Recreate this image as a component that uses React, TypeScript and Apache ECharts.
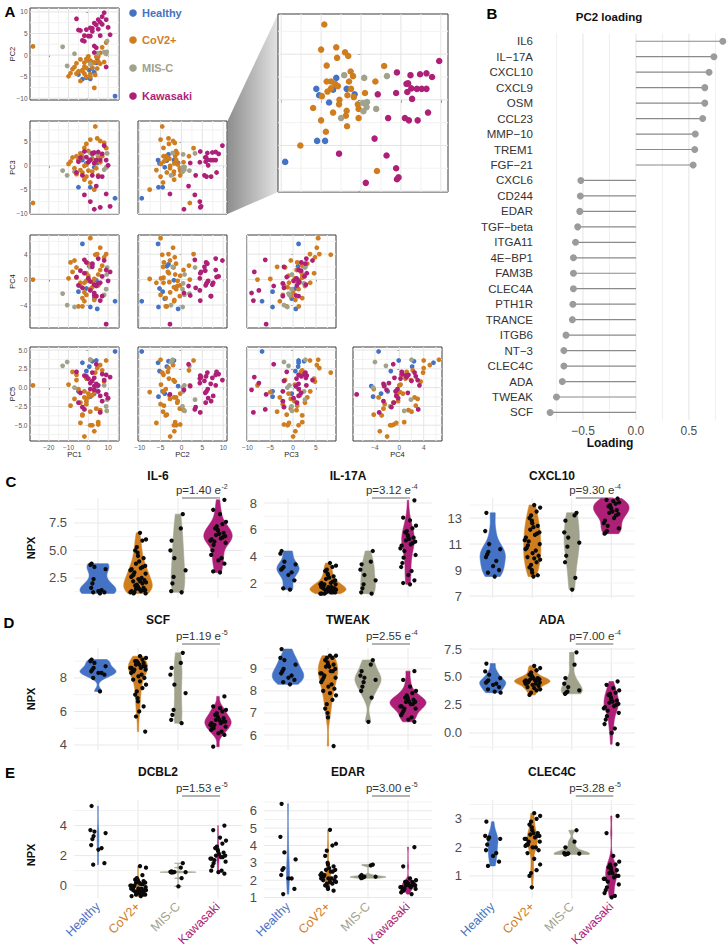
import React, { useEffect, useRef } from "react";
import * as echarts from "echarts";

const FONT = "'Liberation Sans', Arial, Helvetica, sans-serif";
const GROUPS = ["Healthy", "CoV2+", "MIS-C", "Kawasaki"];
const COLORS = ["#4472c4", "#cf7d1f", "#a0a28c", "#ae1f78"];

// ---------- Panel A: PCA scores ----------
const healthyPC1 = [2, -3, -1, 0.5, 3, 4, 4.5, 1, -5, 13.5];
const healthyPC2 = [-3.1, -5.6, -5.25, -3.5, -4.0, -1.8, -0.8, -5.5, -4.5, -9.5];
const healthyPC3 = [2.4, 1.2, 0.5, 1.1, -0.3, 1.2, 0.6, -4.5, -4.5, -6.8];
const healthyPC4 = [2.4, 5.6, -1.4, 2.1, -3.0, -0.1, -4.6, -4.3, -1.9, -3.4];
const healthyPC5 = [3.5, 3.3, 2.2, 2.8, -0.8, 3.6, 0.2, -1.2, -0.5, 4.8];

const covPC1 = [3.5, 1, 4.5, -1, 6, 8, -2, 9, 0, -4, -6, -3, -8, 2, 5, 7, -5, 1, -9, -10, 3, -1, 6, -2, -7, -4, 4, 0, -3, 2, -6, -1, 5, -2, 1, 3, -28];
const covPC2 = [-4.6, -5.0, -3.1, -3.0, -2.0, -1.6, -4.3, 2.9, -1.3, -1.0, -4.3, -3.75, -3.25, -2.9, -1.5, 1.8, -3.75, -1.25, -4.2, -4.9, -1.7, -0.9, 0.5, -2.7, -2.75, -6.0, -0.4, -0.3, -3.5, -1.8, -1.9, -5.0, -0.3, -1.75, -4.4, -7.6, 2.0];
const covPC3 = [8.25, 5.5, 5.75, 4.6, 5.2, 4.8, 3.75, 3.7, 3.1, 2.6, 2.0, 2.0, 1.75, 1.5, 2.0, 2.0, 1.25, 1.2, 0.9, 0.4, 0.5, 0.3, 0.75, 0.0, -0.5, -0.9, -0.5, -1.0, -1.4, -1.2, -1.75, -2.25, -2.0, -2.9, -3.5, -5.0, -7.8];
const covPC4 = [3.9, 6.5, 4.0, 1.0, 5.0, 3.5, -0.5, 4.0, 2.5, -1.0, 0.3, -2.9, 1.2, -0.4, 0.8, 2.2, -4.2, -1.5, 2.7, 0.2, -3.2, -0.2, 1.5, -2.0, 3.0, -0.5, -2.6, 0.6, -4.2, -1.2, 1.9, -2.4, -0.9, -3.4, 2.0, 0.1, 0.0];
const covPC5 = [2.0, 3.7, 2.6, 1.2, 3.0, 0.8, -0.5, 3.6, -1.3, -2.0, 1.7, -3.7, 2.1, -1.0, -4.6, 2.3, -0.2, -5.0, -2.4, 0.4, -5.8, -1.8, -3.0, -6.5, -1.5, -4.7, -2.8, -0.8, -3.6, -5.0, 1.0, -2.2, -4.9, -1.3, -3.2, -0.6, 0.3];

const miscPC1 = [1, 4.7, 9.5, 9, 9.3, 8, -7, -13, -10.7];
const miscPC2 = [-2.1, 0.4, 3.25, 0.25, 0.75, 0.7, 0.3, 1.9, -2.5];
const miscPC3 = [2.7, 2.4, 2.6, -0.35, -0.25, -0.8, -1.25, -1.0, -2.0];
const miscPC4 = [2.0, -0.6, 1.9, -1.5, 0.8, -2.4, -4.3, -2.2, -4.0];
const miscPC5 = [3.7, -0.5, -1.6, -2.5, -3.1, 0.3, 0.0, 2.9, 3.4];

const kawPC1 = [8, -2, 2, 3, 5, 7, -4, -1, 1, 4, 6, 9, -5, 0, 3, 10, -3, 2, 5, 7, -6, 4, 9, -2, 1, 6, 11, 3];
const kawPC2 = [9.8, 4.5, 6.2, 7.4, 8.2, 8.9, 5.7, 5.9, 6.3, 7.0, 7.6, 8.2, 5.8, 4.4, 2.1, 6.4, 3.4, 5.5, 6.0, 7.1, 8.4, 1.7, -2.75, 3.2, 4.4, 4.5, 4.7, 0.6];
const kawPC3 = [4.25, 3.0, 2.7, 2.8, 2.9, 2.5, 1.75, 1.8, 1.25, 1.2, 1.2, 1.2, 0.85, 0.75, 0.6, 0.1, -2.0, -2.0, -2.25, -2.25, -1.4, -4.25, -5.9, -6.1, -7.5, -8.7, -8.5, -9.1];
const kawPC4 = [3.0, 1.0, 2.5, -0.8, 3.3, 0.5, 1.4, 2.7, -0.3, -2.6, -0.5, 1.5, -0.9, 0.2, -2.5, -0.2, -1.3, 2.0, -0.6, -2.6, 0.4, -1.0, -7.0, 3.1, -1.7, -3.3, 1.2, -2.1];
const kawPC5 = [1.0, 1.6, 2.0, 1.3, 0.3, 1.8, -0.7, 1.5, -0.2, 0.5, -1.1, 1.7, -2.0, 1.2, 0.2, -1.4, -2.6, 0.9, -0.5, -1.8, 2.1, 3.1, -0.9, -2.9, 0.6, -3.3, 1.4, -0.3];

const PC_NAMES = ["PC1", "PC2", "PC3", "PC4", "PC5"];
const PC_TICKS = [[-20, -10, 0, 10], [-10, -5, 0, 5, 10], [-10, -5, 0, 5], [-4, 0, 4], [-5, -2.5, 0, 2.5, 5]];
const PC_MINOR = [[-25, -15, -5, 5, 15], [-7.5, -2.5, 2.5, 7.5], [-7.5, -2.5, 2.5, 7.5], [-6, -2, 2, 6], [-6.25, -3.75, -1.25, 1.25, 3.75]];
const PC_DEC = [0, 0, 0, 0, 1];
const PC_RANGE = [[-29.5, 15.5], [-10.4, 10.9], [-10.1, 9.4], [-7.6, 7.0], [-7.1, 5.4]];

// ---------- Panel B: PC2 loadings ----------
const loadingNames = ["IL6", "IL\u221217A", "CXCL10", "CXCL9", "OSM", "CCL23", "MMP\u221210", "TREM1", "FGF\u221221", "CXCL6", "CD244", "EDAR", "TGF\u2212beta", "ITGA11", "4E\u2212BP1", "FAM3B", "CLEC4A", "PTH1R", "TRANCE", "ITGB6", "NT\u22123", "CLEC4C", "ADA", "TWEAK", "SCF"];
const loadingValues = [0.82, 0.736, 0.69, 0.65, 0.65, 0.63, 0.56, 0.555, 0.54, -0.52, -0.525, -0.53, -0.55, -0.57, -0.59, -0.59, -0.59, -0.595, -0.6, -0.66, -0.68, -0.68, -0.695, -0.75, -0.81];
const loadingTicks = [-0.5, 0, 0.5];

// ---------- Panels C-E: NPX values ----------
const il6Healthy = [3.8, 3.7, 3.5, 3.3, 2.4, 2.0, 1.6, 1.4, 1.3, 1.2, 1.2, 1.1];
const il6Cov = [6.6, 6.0, 5.9, 5.3, 5.0, 4.8, 4.5, 4.3, 4.0, 3.8, 3.6, 3.5, 3.4, 3.3, 3.2, 3.0, 2.9, 2.8, 2.7, 2.6, 2.5, 2.4, 2.3, 2.2, 2.2, 2.1, 2.0, 1.9, 1.8, 1.7, 1.7, 1.6, 1.5, 1.5, 1.4, 1.4, 1.3, 1.3, 1.2, 1.2, 1.1, 1.1];
const il6Misc = [8.3, 7.0, 5.9, 5.0, 4.3, 3.2, 2.6, 2.0, 1.3, 1.2];
const il6Kaw = [9.6, 8.7, 8.3, 7.6, 7.4, 7.2, 7.0, 6.9, 6.8, 6.6, 6.5, 6.4, 6.3, 6.2, 6.1, 6.0, 5.9, 5.8, 5.7, 5.5, 5.0, 4.6, 4.3, 4.1, 3.8, 3.1, 3.0];

const il17Healthy = [4.4, 4.2, 3.6, 3.4, 3.2, 3.1, 3.0, 2.8, 2.6, 2.2, 1.6, 1.5];
const il17Cov = [3.5, 3.3, 3.2, 3.0, 2.9, 2.7, 2.6, 2.5, 2.4, 2.3, 2.2, 2.1, 2.0, 2.0, 1.9, 1.9, 1.9, 1.8, 1.8, 1.7, 1.7, 1.7, 1.6, 1.6, 1.6, 1.5, 1.5, 1.5, 1.5, 1.4, 1.4, 1.4, 1.4, 1.3, 1.3, 1.3, 1.3, 1.2, 1.2, 1.2];
const il17Misc = [4.4, 3.6, 3.4, 3.0, 2.6, 2.2, 1.9, 1.6, 1.3, 1.2];
const il17Kaw = [8.2, 6.9, 6.7, 6.3, 6.1, 5.9, 5.8, 5.6, 5.5, 5.4, 5.3, 5.2, 5.1, 5.0, 4.9, 4.8, 4.6, 4.4, 4.1, 3.9, 3.5, 3.2, 2.9, 2.6, 2.2, 2.0, 1.9];

const cxcl10Healthy = [13.4, 12.0, 11.0, 10.6, 10.4, 10.2, 10.0, 9.7, 9.3, 9.0, 8.8, 8.5];
const cxcl10Cov = [14.0, 13.8, 13.5, 13.2, 13.0, 12.8, 12.6, 12.4, 12.3, 12.1, 11.9, 11.8, 11.7, 11.5, 11.3, 11.2, 11.0, 10.9, 10.7, 10.6, 10.5, 10.3, 10.1, 10.0, 9.9, 9.8, 9.6, 9.4, 9.2, 9.0, 8.8, 8.6, 8.5];
const cxcl10Misc = [13.4, 13.2, 12.8, 11.9, 11.5, 11.1, 10.8, 10.1, 9.6, 8.4, 7.5];
const cxcl10Kaw = [14.5, 14.4, 14.3, 14.2, 14.1, 14.0, 13.9, 13.8, 13.7, 13.6, 13.5, 13.4, 13.3, 13.2, 13.0, 12.8, 12.6, 12.4, 12.2, 12.0, 11.9, 11.8];

const scfHealthy = [9.1, 9.0, 8.9, 8.7, 8.6, 8.5, 8.4, 8.3, 8.3, 8.2, 8.0, 7.2];
const scfCov = [9.3, 9.2, 9.1, 9.0, 9.0, 8.9, 8.9, 8.9, 8.8, 8.8, 8.7, 8.7, 8.6, 8.6, 8.6, 8.5, 8.5, 8.4, 8.4, 8.3, 8.2, 8.1, 8.0, 7.9, 7.8, 7.6, 7.4, 7.2, 7.0, 6.8, 6.6, 6.3, 6.0, 5.7, 4.8];
const scfMisc = [9.5, 8.9, 8.6, 8.2, 7.6, 7.1, 6.1, 5.8, 5.5, 5.3];
const scfKaw = [6.9, 6.3, 6.2, 6.1, 6.0, 5.9, 5.8, 5.7, 5.6, 5.6, 5.5, 5.5, 5.4, 5.4, 5.3, 5.3, 5.2, 5.2, 5.1, 5.0, 5.0, 4.9, 4.8, 4.7, 4.6, 3.9];

const tweakHealthy = [9.9, 9.5, 9.4, 9.2, 9.0, 8.9, 8.8, 8.7, 8.6, 8.5, 8.4, 8.3];
const tweakCov = [9.6, 9.6, 9.5, 9.5, 9.4, 9.3, 9.2, 9.2, 9.1, 9.1, 9.0, 8.9, 8.9, 8.8, 8.8, 8.7, 8.6, 8.6, 8.5, 8.4, 8.3, 8.2, 8.1, 8.0, 7.9, 7.8, 7.6, 7.4, 7.2, 7.0, 6.8, 5.5];
const tweakMisc = [9.4, 9.2, 8.9, 8.7, 8.6, 8.5, 8.4, 8.2, 8.0, 7.7, 6.6];
const tweakKaw = [8.9, 8.5, 8.2, 8.0, 7.9, 7.8, 7.7, 7.7, 7.6, 7.6, 7.5, 7.5, 7.5, 7.4, 7.4, 7.3, 7.3, 7.2, 7.2, 7.1, 7.0, 6.9, 6.8, 6.7, 6.6];

const adaHealthy = [6.2, 5.5, 5.2, 4.9, 4.7, 4.6, 4.5, 4.4, 4.3, 4.1, 3.9, 3.7, 3.6];
const adaCov = [6.0, 5.8, 5.6, 5.4, 5.2, 5.1, 5.0, 4.9, 4.9, 4.8, 4.8, 4.7, 4.7, 4.7, 4.6, 4.6, 4.5, 4.5, 4.5, 4.4, 4.4, 4.3, 4.2, 4.1, 4.0, 3.9, 3.8, 3.6, 3.4];
const adaMisc = [7.2, 6.1, 4.9, 4.4, 4.1, 3.8, 3.7, 3.6, 3.5];
const adaKaw = [4.6, 4.3, 4.0, 3.8, 3.6, 3.5, 3.4, 3.2, 3.0, 2.9, 2.8, 2.7, 2.6, 2.5, 2.4, 2.3, 2.2, 2.0, 1.8, 1.5, 1.2, 0.8, 0.4, 0.0, -1.0];

const dcbl2Healthy = [5.3, 3.7, 3.6, 3.5, 3.3, 3.1, 2.7, 2.5, 2.4, 1.5, 1.4];
const dcbl2Cov = [1.3, 1.2, 0.7, 0.5, 0.4, 0.4, 0.3, 0.3, 0.2, 0.2, 0.2, 0.1, 0.1, 0.0, 0.0, 0.0, -0.1, -0.1, -0.1, -0.2, -0.2, -0.2, -0.3, -0.3, -0.3, -0.3, -0.4, -0.4, -0.4, -0.5, -0.5, -0.5, -0.5, -0.6, -0.6, -0.6, -0.7, -0.7];
const dcbl2Misc = [1.5, 1.2, 0.95, 0.92, 0.91, 0.9, 0.9, 0.89, 0.88, 0.5, -0.05];
const dcbl2Kaw = [4.0, 3.7, 3.2, 3.0, 2.8, 2.6, 2.5, 2.4, 2.3, 2.2, 2.1, 2.0, 2.0, 1.9, 1.9, 1.8, 1.8, 1.7, 1.6, 1.5, 1.3, 1.0, 1.0, 0.9, 0.8];

const edarHealthy = [6.4, 4.5, 3.6, 3.2, 2.7, 2.6, 2.3, 2.1, 2.1, 1.5, 1.2];
const edarCov = [4.9, 4.1, 4.0, 3.7, 3.4, 3.0, 2.9, 2.8, 2.7, 2.6, 2.6, 2.5, 2.5, 2.4, 2.3, 2.3, 2.2, 2.2, 2.2, 2.1, 2.1, 2.1, 2.0, 2.0, 1.9, 1.9, 1.8, 1.8, 1.7, 1.6, 1.5, 1.4];
const edarMisc = [2.9, 2.85, 2.3, 2.22, 2.2, 2.2, 2.18, 2.15, 2.12];
const edarKaw = [3.9, 2.8, 2.1, 2.0, 1.9, 1.9, 1.9, 1.8, 1.8, 1.8, 1.7, 1.7, 1.7, 1.7, 1.6, 1.6, 1.6, 1.5, 1.5, 1.4, 1.4, 1.3, 1.2];

const clec4cHealthy = [2.9, 2.4, 2.35, 2.3, 2.3, 2.1, 1.9, 1.8, 1.7, 1.5, 1.35];
const clec4cCov = [3.2, 3.1, 3.0, 2.9, 2.8, 2.7, 2.6, 2.5, 2.5, 2.45, 2.4, 2.4, 2.35, 2.3, 2.3, 2.2, 2.2, 2.1, 2.1, 2.05, 2.0, 2.0, 1.9, 1.8, 1.6, 1.4, 1.2, 1.1, 1.0, 0.6];
const clec4cMisc = [2.6, 2.2, 2.0, 1.8, 1.79, 1.78, 1.77, 1.76, 1.75];
const clec4cKaw = [3.1, 2.5, 1.7, 1.5, 1.4, 1.4, 1.3, 1.3, 1.2, 1.2, 1.1, 1.1, 1.0, 1.0, 0.95, 0.9, 0.9, 0.8, 0.7, 0.6, 0.5, 0.4, 0.3, 0.25];

const violinGenes = ["IL-6", "IL-17A", "CXCL10", "SCF", "TWEAK", "ADA", "DCBL2", "EDAR", "CLEC4C"];
const violinTicks = [[2.5, 5, 7.5], [2, 4, 6, 8], [7, 9, 11, 13], [4, 6, 8], [6, 7, 8, 9], [0, 2.5, 5, 7.5], [0, 2, 4], [1, 2, 3, 4, 5, 6], [1, 2, 3]];
const violinTickDecimals = [1, 0, 0, 0, 0, 1, 0, 0, 0];
const pMantissa = ["1.40", "3.12", "9.30", "1.19", "2.55", "7.00", "1.53", "3.00", "3.28"];
const pExponent = ["-2", "-4", "-4", "-5", "-4", "-4", "-5", "-5", "-5"];

// ---------- layout (pixels / axis extents) ----------
const A_COLS = [[30, 119], [138, 227], [247, 336], [353, 442]];
const A_ROWS = [[8, 100], [121, 214], [235, 328], [347, 441]];
const V_COLS = [[74, 242], [264, 432], [469, 635]];
const V_ROWS = [[498, 598], [648, 750], [800, 900]];
const V_TITLE_Y = [476, 620, 772];
const V_P_Y = [490, 636, 788];
const V_NPX_Y = [548, 699, 855];
const V_RANGE = [[0.68, 9.77], [0.875, 8.375], [6.85, 14.54], [3.7, 9.79], [5.32, 9.95], [-1.52, 7.59], [-0.85, 5.7], [0.95, 6.62], [0.21, 3.66]];
const JITTER = [-0.16, 0.09, -0.03, 0.18, -0.11, 0.05, 0.14, -0.19, 0.01, -0.07, 0.12, -0.14, 0.2, 0.03, -0.09, 0.16, -0.01, 0.07, -0.17, 0.11, -0.05, 0.19, -0.12, 0.0];

function fmtNum(v: number, dec: number) {
  const s = Math.abs(v).toFixed(dec);
  return (v < 0 ? "\u2212" : "") + s;
}

function quantile(s: number[], p: number) {
  const h = (s.length - 1) * p;
  const lo = Math.floor(h), hi = Math.ceil(h);
  return s[lo] + (s[hi] - s[lo]) * (h - lo);
}

function kde(vals: number[]) {
  const s = vals.slice().sort((a, b) => a - b);
  const n = s.length;
  const mean = s.reduce((a, b) => a + b, 0) / n;
  const sd = Math.sqrt(s.reduce((a, b) => a + (b - mean) * (b - mean), 0) / (n - 1));
  const iqr = quantile(s, 0.75) - quantile(s, 0.25);
  let lo = Math.min(sd, iqr / 1.34);
  if (!(lo > 0)) lo = sd > 0 ? sd : 0.1;
  const bw = 0.9 * lo * Math.pow(n, -0.2);
  const out: number[][] = [];
  const N = 180;
  for (let i = 0; i <= N; i++) {
    const y = s[0] + ((s[n - 1] - s[0]) * i) / N;
    let d = 0;
    for (const v of s) {
      const z = (y - v) / bw;
      d += Math.exp(-0.5 * z * z);
    }
    out.push([y, d / (n * bw * Math.sqrt(2 * Math.PI))]);
  }
  return out;
}

function violinShapes(groups: number[][]) {
  const dens = groups.map(kde);
  let maxD = 0;
  dens.forEach((d) => d.forEach(([, v]) => (maxD = Math.max(maxD, v))));
  return dens.map((d, g) => {
    const right = d.map(([y, v]) => [g + (v / maxD) * 0.45, y]);
    const left = d.slice().reverse().map(([y, v]) => [g - (v / maxD) * 0.45, y]);
    return right.concat(left);
  });
}

function gridLines(idx: number, xs: [number, string][], ys: [number, string][]) {
  return {
    type: "custom",
    xAxisIndex: idx,
    yAxisIndex: idx,
    silent: true,
    z: 1,
    data: [[0, 0]],
    renderItem: (params: any, api: any) => {
      const cs = params.coordSys;
      const children: any[] = [];
      xs.forEach(([v, c]) => {
        const px = api.coord([v, 0])[0];
        children.push({ type: "line", shape: { x1: px, y1: cs.y, x2: px, y2: cs.y + cs.height }, style: { stroke: c, lineWidth: 1 } });
      });
      ys.forEach(([v, c]) => {
        const py = api.coord([0, v])[1];
        children.push({ type: "line", shape: { x1: cs.x, y1: py, x2: cs.x + cs.width, y2: py }, style: { stroke: c, lineWidth: 1 } });
      });
      return { type: "group", children };
    },
  };
}

function buildOption() {
  const grid: any[] = [];
  const xAxis: any[] = [];
  const yAxis: any[] = [];
  const series: any[] = [];
  const elements: any[] = [];

  const text = (x: number, y: number, t: string, size: number, extra: any = {}, rotation = 0) => {
    elements.push({
      type: "text",
      x,
      y,
      rotation,
      silent: true,
      style: { text: t, fontSize: size, fontFamily: FONT, fill: "#000", textAlign: "center", textVerticalAlign: "middle", ...extra },
    });
  };

  // ===== Panel A =====
  const pcGroups = [
    [healthyPC1, healthyPC2, healthyPC3, healthyPC4, healthyPC5],
    [covPC1, covPC2, covPC3, covPC4, covPC5],
    [miscPC1, miscPC2, miscPC3, miscPC4, miscPC5],
    [kawPC1, kawPC2, kawPC3, kawPC4, kawPC5],
  ];
  const addPcPanel = (rect: any, xi: number, yi: number, showX: boolean, showY: boolean, size: number, tickLen: number) => {
    const idx = grid.length;
    grid.push({ ...rect, show: true, backgroundColor: "#fff", borderColor: "#3a3a3a", borderWidth: 1 });
    const axisCommon = (pi: number, show: boolean) => ({
      type: "value",
      gridIndex: idx,
      min: PC_RANGE[pi][0],
      max: PC_RANGE[pi][1],
      axisLine: { show: false },
      splitLine: { show: false },
      axisTick: { show: true, customValues: PC_TICKS[pi], length: tickLen, lineStyle: { color: "#3a3a3a", width: 0.8 } },
      axisLabel: { show, customValues: PC_TICKS[pi], formatter: (v: number) => fmtNum(v, PC_DEC[pi]), fontSize: 6.5, color: "#555", margin: 2.5, fontFamily: FONT },
    });
    xAxis.push(axisCommon(xi, showX));
    yAxis.push(axisCommon(yi, showY));
    const xl: [number, string][] = [];
    PC_MINOR[xi].forEach((v) => xl.push([v, "#f2f2f2"]));
    PC_TICKS[xi].forEach((v) => xl.push([v, "#e4e4e4"]));
    const yl: [number, string][] = [];
    PC_MINOR[yi].forEach((v) => yl.push([v, "#f2f2f2"]));
    PC_TICKS[yi].forEach((v) => yl.push([v, "#e4e4e4"]));
    series.push(gridLines(idx, xl, yl));
    pcGroups.forEach((g, gi) => {
      series.push({
        type: "scatter",
        xAxisIndex: idx,
        yAxisIndex: idx,
        silent: true,
        z: 3,
        symbolSize: size,
        itemStyle: { color: COLORS[gi], opacity: 1 },
        data: g[xi].map((v, i) => [v, g[yi][i]]),
      });
    });
  };

  for (let r = 0; r < 4; r++) {
    for (let c = 0; c <= r; c++) {
      const rect = { left: A_COLS[c][0], top: A_ROWS[r][0], width: A_COLS[c][1] - A_COLS[c][0], height: A_ROWS[r][1] - A_ROWS[r][0] };
      addPcPanel(rect, c, r + 1, r === 3, c === 0, 4.8, 2);
    }
  }
  // enlarged PC2 vs PC3 panel
  addPcPanel({ left: 278, top: 14, width: 170, height: 178 }, 1, 2, false, false, 6.5, 3);

  // funnel between small panel and enlarged panel
  elements.push({
    type: "polygon",
    silent: true,
    z: -5,
    shape: { points: [[227.5, 121], [278, 14], [278, 192], [227.5, 214]] },
    style: {
      fill: new echarts.graphic.LinearGradient(0, 0, 1, 0, [
        { offset: 0, color: "#8e8e8e" },
        { offset: 1, color: "#e2e2e2" },
      ]),
    },
  });

  // PC axis titles
  for (let r = 0; r < 4; r++) {
    text(12, (A_ROWS[r][0] + A_ROWS[r][1]) / 2, PC_NAMES[r + 1], 7.5, { fill: "#222" }, Math.PI / 2);
  }
  for (let c = 0; c < 4; c++) {
    text((A_COLS[c][0] + A_COLS[c][1]) / 2, 454, PC_NAMES[c], 7.5, { fill: "#222" });
  }
  // legend
  const legendY = [13, 40, 68, 96];
  GROUPS.forEach((g, i) => {
    elements.push({ type: "circle", silent: true, shape: { cx: 133, cy: legendY[i], r: 3.8 }, style: { fill: COLORS[i] } });
    text(142, legendY[i], g, 11, { fill: COLORS[i], fontWeight: "bold", textAlign: "left" });
  });

  // ===== Panel B =====
  {
    const idx = grid.length;
    grid.push({ left: 548, top: 33.5, width: 178, height: 386.7 });
    xAxis.push({
      type: "value",
      gridIndex: idx,
      min: -0.83,
      max: 0.85,
      axisLine: { show: false },
      axisTick: { show: false },
      splitLine: { show: false },
      axisLabel: { customValues: loadingTicks, formatter: (v: number) => fmtNum(v, 1), fontSize: 12, color: "#4d4d4d", margin: 5, fontFamily: FONT },
    });
    yAxis.push({
      type: "category",
      gridIndex: idx,
      data: loadingNames,
      inverse: true,
      axisLine: { show: false },
      axisTick: { show: false },
      splitLine: { show: false },
      axisLabel: { interval: 0, fontSize: 11.5, color: "#333", margin: 15, fontFamily: FONT },
    });
    series.push(
      gridLines(
        idx,
        [
          [-0.75, "#efefef"],
          [-0.25, "#efefef"],
          [0.25, "#efefef"],
          [0.75, "#efefef"],
          [-0.5, "#e4e4e4"],
          [0, "#e4e4e4"],
          [0.5, "#e4e4e4"],
        ],
        []
      )
    );
    series.push({
      type: "bar",
      xAxisIndex: idx,
      yAxisIndex: idx,
      silent: true,
      z: 2,
      barWidth: 1.2,
      itemStyle: { color: "#8a8a8a" },
      data: loadingValues,
    });
    series.push({
      type: "scatter",
      xAxisIndex: idx,
      yAxisIndex: idx,
      silent: true,
      z: 3,
      symbolSize: 7,
      itemStyle: { color: "#9b9b9b", opacity: 1 },
      data: loadingValues.map((v, i) => [v, i]),
    });
    text(609, 17, "PC2 loading", 11.5, { fontWeight: "bold", fill: "#111" });
    text(610, 443, "Loading", 12, { fontWeight: "bold", fill: "#111" });
  }

  // ===== Panels C-E =====
  const violinData = [
    [il6Healthy, il6Cov, il6Misc, il6Kaw],
    [il17Healthy, il17Cov, il17Misc, il17Kaw],
    [cxcl10Healthy, cxcl10Cov, cxcl10Misc, cxcl10Kaw],
    [scfHealthy, scfCov, scfMisc, scfKaw],
    [tweakHealthy, tweakCov, tweakMisc, tweakKaw],
    [adaHealthy, adaCov, adaMisc, adaKaw],
    [dcbl2Healthy, dcbl2Cov, dcbl2Misc, dcbl2Kaw],
    [edarHealthy, edarCov, edarMisc, edarKaw],
    [clec4cHealthy, clec4cCov, clec4cMisc, clec4cKaw],
  ];

  violinData.forEach((groups, k) => {
    const row = Math.floor(k / 3);
    const col = k % 3;
    const idx = grid.length;
    const left = V_COLS[col][0];
    const width = V_COLS[col][1] - V_COLS[col][0];
    const top = V_ROWS[row][0];
    const height = V_ROWS[row][1] - V_ROWS[row][0];
    grid.push({ left, top, width, height });
    xAxis.push({
      type: "value",
      gridIndex: idx,
      min: -0.6,
      max: 3.6,
      axisLine: { show: false },
      axisTick: { show: false },
      splitLine: { show: false },
      axisLabel: {
        show: row === 2,
        customValues: [0, 1, 2, 3],
        formatter: (v: number) => GROUPS[Math.round(v)],
        color: (v: any) => COLORS[Math.round(Number(v))],
        rotate: 45,
        fontSize: 12.5,
        margin: 6,
        fontFamily: FONT,
      },
    });
    const ticks = violinTicks[k];
    const [ymin, ymax] = V_RANGE[k];
    yAxis.push({
      type: "value",
      gridIndex: idx,
      min: ymin,
      max: ymax,
      axisLine: { show: false },
      axisTick: { show: false },
      splitLine: { show: false },
      axisLabel: { customValues: ticks, formatter: (v: number) => fmtNum(v, violinTickDecimals[k]), fontSize: 13, color: "#4d4d4d", margin: 7, fontFamily: FONT },
    });
    const step = ticks[1] - ticks[0];
    const minors = [ticks[0] - step / 2, ...ticks.map((t) => t + step / 2)].filter((v) => v > ymin && v < ymax);
    const yl: [number, string][] = [];
    minors.forEach((v) => yl.push([v, "#f3f3f3"]));
    ticks.forEach((v) => yl.push([v, "#e8e8e8"]));
    series.push(gridLines(idx, [[0, "#e8e8e8"], [1, "#e8e8e8"], [2, "#e8e8e8"], [3, "#e8e8e8"]], yl));

    const shapes = violinShapes(groups);
    series.push({
      type: "custom",
      xAxisIndex: idx,
      yAxisIndex: idx,
      silent: true,
      z: 2,
      data: [[0, ymin]],
      renderItem: (params: any, api: any) => ({
        type: "group",
        children: shapes.map((pts, g) => ({
          type: "polygon",
          shape: { points: pts.map((p) => api.coord(p)) },
          style: { fill: COLORS[g], stroke: COLORS[g], lineWidth: 0.6 },
        })),
      }),
    });
    const pts: number[][] = [];
    groups.forEach((vals, g) => vals.forEach((v, i) => pts.push([g + JITTER[(i * 7 + g * 5) % JITTER.length], v])));
    series.push({
      type: "scatter",
      xAxisIndex: idx,
      yAxisIndex: idx,
      silent: true,
      z: 3,
      symbolSize: 4.3,
      itemStyle: { color: "#0a0a0a", opacity: 1 },
      data: pts,
    });

    // titles and p-values
    const band = width / 4.2;
    const xMis = left + band * 2.6;
    const xKaw = left + band * 3.6;
    text(left + width / 2, V_TITLE_Y[row], violinGenes[k], 12, { fontWeight: "bold", fill: "#111" });
    text(xKaw + 3, V_P_Y[row], "p=" + pMantissa[k] + " e", 11.5, { fill: "#333", textAlign: "right" });
    text(xKaw + 3.5, V_P_Y[row] - 4, pExponent[k], 7, { fill: "#333", textAlign: "left" });
    elements.push({
      type: "line",
      silent: true,
      shape: { x1: xMis + 4, y1: V_P_Y[row] + 8, x2: xKaw + 2, y2: V_P_Y[row] + 8 },
      style: { stroke: "#666", lineWidth: 1 },
    });
    if (col === 0) text(31, V_NPX_Y[row], "NPX", 11, { fontWeight: "bold", fill: "#111" }, Math.PI / 2);
  });

  // panel letters
  text(10, 11, "A", 15, { fontWeight: "bold" });
  text(492, 13, "B", 15, { fontWeight: "bold" });
  text(11, 481, "C", 15, { fontWeight: "bold" });
  text(9, 622, "D", 15, { fontWeight: "bold" });
  text(10, 772, "E", 15, { fontWeight: "bold" });

  return {
    animation: false,
    backgroundColor: "#fff",
    textStyle: { fontFamily: FONT },
    grid,
    xAxis,
    yAxis,
    series,
    graphic: { elements },
  };
}

export default function App() {
  const ref = useRef<HTMLDivElement>(null);
  useEffect(() => {
    document.body.style.margin = "0";
    const chart = echarts.init(ref.current!, null, { renderer: "svg", width: 728, height: 949 });
    chart.setOption(buildOption() as any);
    return () => chart.dispose();
  }, []);
  return <div ref={ref} style={{ position: "absolute", left: 0, top: 0, width: 728, height: 949 }} />;
}
